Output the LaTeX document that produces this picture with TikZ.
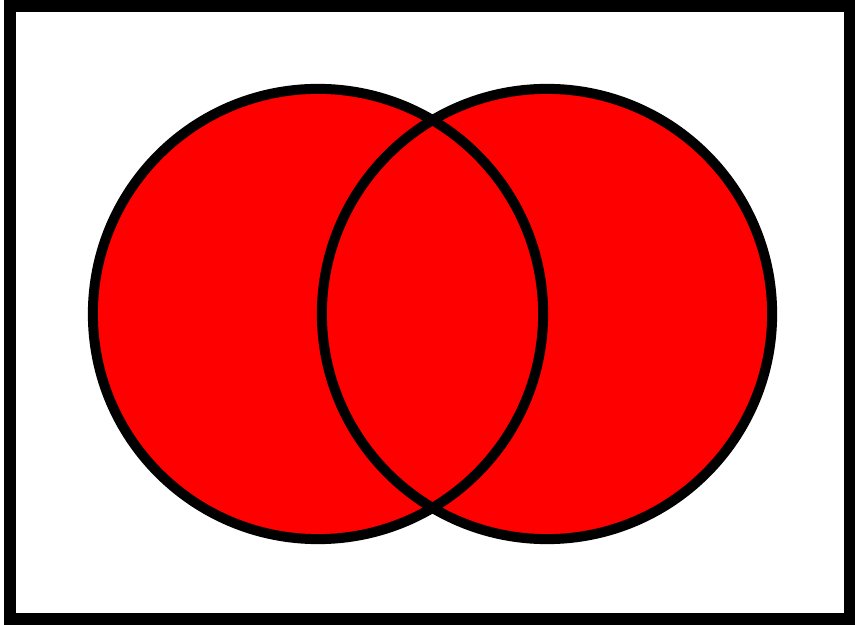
\documentclass[tikz,border=0pt]{standalone}
\usepackage{tikz}
\usetikzlibrary{positioning}
\tikzset{
  venn line/.style={line width=0.1cm, black},
  venn fill/.style={fill=red},
}
\begin{document}
\begin{tikzpicture}[x=0.01cm, y=-0.01cm]
	\useasboundingbox (0,0) rectangle (855,625);
	\coordinate (A) at (318,314);
	\coordinate (B) at (547,314);
	\fill[white] (0,0) rectangle (855,625);
	\fill[venn fill] (A) circle (2.25cm);
	\fill[venn fill] (B) circle (2.25cm);
	\draw[venn line] (A) circle (2.25cm);
	\draw[venn line] (B) circle (2.25cm);
	\draw[line width=0.12cm] (10,6) rectangle (850,619);
\end{tikzpicture}
\end{document}
